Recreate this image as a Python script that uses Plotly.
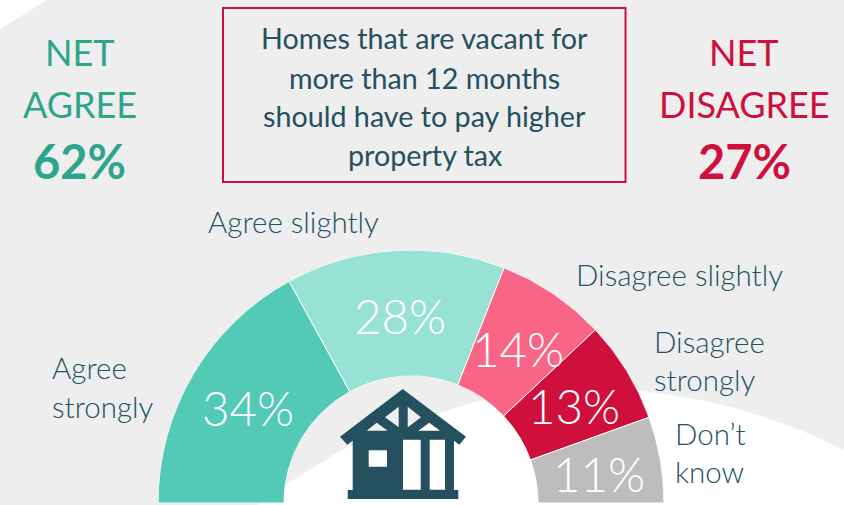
import plotly.graph_objects as go

W, H = 844, 505

categories = ["Agree strongly", "Agree slightly", "Disagree slightly", "Disagree strongly", "Don\u2019t know"]
shares = [34, 28, 14, 13, 11]
slice_colors = ["#52CAB5", "#97E2D5", "#F86587", "#CF0F3C", "#BDBDBD"]
net_agree = 62
net_disagree = 27
question_lines = ["Homes that are vacant for", "more than 12 months", "should have to pay higher", "property tax"]

GREEN, RED, DARK, BG = "#2EA58B", "#CF0F3C", "#24505F", "#EEEEEE"
FONT = "Lato"


def px(x):
    return x / W


def py(y):
    return 1 - y / H


def path(points_list):
    d = ""
    for pts in points_list:
        d += "M" + " L".join(f"{px(x):.5f},{py(y):.5f}" for x, y in pts) + " Z "
    return d


# slices go clockwise from the left end of the half circle
thetas, widths = [], []
edge = 180.0
for s in shares:
    w = s * 1.8
    thetas.append(edge - w / 2)
    widths.append(w)
    edge -= w

fig = go.Figure(go.Barpolar(
    r=[1] * len(shares), theta=thetas, width=widths, text=categories,
    marker=dict(color=slice_colors, line=dict(color="white", width=1)),
    hoverinfo="text", showlegend=False,
))


def text(x, y, s, size, color, anchor="center", weight=300):
    fig.add_annotation(
        xref="paper", yref="paper", x=px(x), y=py(y), text=s, showarrow=False,
        xanchor=anchor, yanchor="middle", align=anchor,
        font=dict(family=FONT, size=size, color=color, weight=weight),
        borderpad=0, borderwidth=0,
    )


# heading blocks
text(80, 52.5, "NET", 36, GREEN, weight=400)
text(80, 104, "AGREE", 36, GREEN, weight=400)
text(79.5, 161, f"{net_agree}%", 47, GREEN, weight=700)
text(744, 52.5, "NET", 36, RED, weight=400)
text(744, 104, "DISAGREE", 36, RED, weight=400)
text(744, 161, f"{net_disagree}%", 47, RED, weight=700)

# question box text
for ly, line in zip([38.5, 77.5, 116, 154.5], question_lines):
    text(424.5, ly, line, 28.7, DARK, weight=400)

# slice labels
text(208, 222, "Agree slightly", 29.5, DARK, "left")
text(576, 274.5, "Disagree slightly", 29.5, DARK, "left")
text(52, 367.5, "Agree", 29.5, DARK, "left")
text(52, 406.5, "strongly", 29.5, DARK, "left")
text(654, 341.5, "Disagree", 29.5, DARK, "left")
text(654, 379.5, "strongly", 29.5, DARK, "left")
text(675, 433.5, "Don\u2019t", 29.5, DARK, "left")
text(675, 471.5, "know", 29.5, DARK, "left")

# slice percentages
for (x, y), v in zip([(248, 407), (399.5, 315), (517.5, 348), (574, 405), (598.5, 473)], shares):
    text(x, y, f"{v}%", 47.5, "white")

swoosh = ("M" + " L".join(f"{px(x):.5f},{py(y):.5f}" for x, y in [(258, 505), (285, 485), (342, 450)])
          + f" Q{px(400):.5f},{py(423):.5f} {px(483):.5f},{py(400):.5f}"
          + f" Q{px(560):.5f},{py(383):.5f} {px(640):.5f},{py(391):.5f}"
          + f" Q{px(750):.5f},{py(402):.5f} {px(844):.5f},{py(450):.5f}"
          + f" L{px(844):.5f},{py(505):.5f} Z")
corner = path([[(0, 0), (47, 0), (0, 29)]])

house_outer = [(402.7, 389), (466, 436.7), (459.3, 444.7), (454, 440.7), (454, 490), (458.3, 490), (458.3, 499),
               (347.7, 499), (347.7, 490), (352.7, 490), (352.7, 440.7), (347.3, 444.7), (340, 436.7)]
house_holes = [
    [(368.7, 450.3), (368.7, 466.7), (387, 466.7), (387, 450.3)],
    [(403, 439.7), (403, 489.7), (420.7, 489.7), (420.7, 439.7)],
    [(429.7, 439.7), (429.7, 489.7), (445, 489.7), (445, 439.7)],
    [(398.7, 406.7), (385, 417.3), (398.7, 427.3)],
    [(407.7, 406.7), (407.7, 427.3), (421, 417.3)],
    [(376.7, 422.7), (366.7, 430.7), (387.7, 430.7)],
    [(429.3, 422.7), (418.3, 430.7), (440, 430.7)],
]
house = path([house_outer] + house_holes)

fig.update_layout(
    width=W, height=H, margin=dict(l=0, r=0, t=0, b=0),
    paper_bgcolor=BG, plot_bgcolor="rgba(0,0,0,0)", showlegend=False,
    polar=dict(
        domain=dict(x=[px(158), px(664)], y=[py(503), py(250)]),
        sector=[0, 180], hole=127 / 253, bgcolor="rgba(0,0,0,0)",
        radialaxis=dict(visible=False, range=[0, 1]),
        angularaxis=dict(visible=False, direction="counterclockwise", rotation=0),
    ),
    shapes=[
        dict(type="path", xref="paper", yref="paper", path=swoosh, fillcolor="white", line_width=0, layer="below"),
        dict(type="path", xref="paper", yref="paper", path=corner, fillcolor="white", line_width=0, layer="below"),
        dict(type="rect", xref="paper", yref="paper", x0=px(223), x1=px(625.5), y0=py(8), y1=py(182),
             line=dict(color=RED, width=2), fillcolor="rgba(0,0,0,0)", layer="above"),
        dict(type="path", xref="paper", yref="paper", path=house, fillcolor=DARK, line_width=0, layer="above"),
    ],
)
fig.write_html("out.html", config={"displayModeBar": False},
               post_script="document.body.style.margin='0';document.documentElement.style.overflow='hidden';")
